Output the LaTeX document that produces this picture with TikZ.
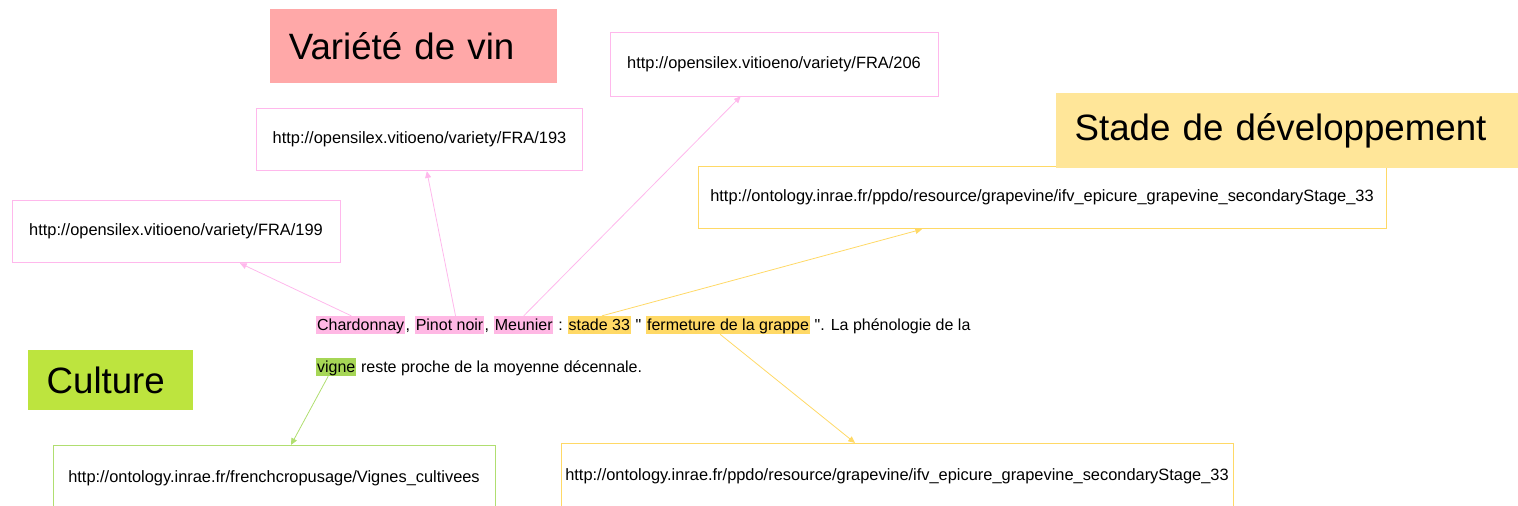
\documentclass[tikz,border=0pt]{standalone}
\usepackage{fontspec}
\setmainfont{Liberation Sans}
\usetikzlibrary{positioning, arrows.meta}

\definecolor{varfill}{HTML}{FFA8A8}
\definecolor{stadefill}{HTML}{FFE699}
\definecolor{cultfill}{HTML}{BDE43E}
\definecolor{pinkline}{HTML}{FFB8EC}
\definecolor{yelline}{HTML}{FFD966}
\definecolor{greenline}{HTML}{B0DE70}
\definecolor{pinkhl}{HTML}{FFB8E4}
\definecolor{orangehl}{HTML}{FFD966}
\definecolor{greenhl}{HTML}{A6D656}

\begin{document}
\begin{tikzpicture}[
  x=0.75pt, y=-0.75pt,
  uri/.style={rectangle, draw, line width=0.6pt, inner sep=0pt, font=\fontsize{12.3}{14}\selectfont},
  title/.style={rectangle, inner xsep=14pt, inner ysep=0pt, align=left, font=\fontsize{27.5}{32}\selectfont},
  word/.style={anchor=base west, inner xsep=0pt, inner ysep=0pt, text height=10.8pt, text depth=2.6pt, font=\fontsize{12}{14}\selectfont},
  hl/.style={word, inner xsep=0.6pt},
  sp/.style={xshift=3.3pt},
  link/.style={-{Triangle[length=5pt, width=4.5pt]}, line width=0.6pt}
]
\clip (0,0) rectangle (1518,506);

% Boxes for the resources
\node[uri, draw=pinkline, minimum width=246pt, minimum height=48pt] (v206) at (774,64) {http://opensilex.vitioeno/variety/FRA/206};
\node[uri, draw=pinkline, minimum width=245pt, minimum height=47pt] (v193) at (419.5,139.5) {http://opensilex.vitioeno/variety/FRA/193};
\node[uri, draw=pinkline, minimum width=246pt, minimum height=47pt] (v199) at (176,231.5) {http://opensilex.vitioeno/variety/FRA/199};
\node[uri, draw=yelline, minimum width=516pt, minimum height=47pt] (sttop) at (1042,197.5) {http://ontology.inrae.fr/ppdo/resource/grapevine/ifv\_epicure\_grapevine\_secondaryStage\_33};
\node[uri, draw=yelline, minimum width=504pt, minimum height=49pt] (stbot) at (897,476) {http://ontology.inrae.fr/ppdo/resource/grapevine/ifv\_epicure\_grapevine\_secondaryStage\_33};
\node[uri, draw=greenline, minimum width=331.5pt, minimum height=49pt] (vignes) at (274,478) {http://ontology.inrae.fr/frenchcropusage/Vignes\_cultivees};

% Category labels
\node[title, fill=varfill, text width=187pt, minimum height=56pt] (variete) at (413.5,46) {Variété de vin};
\node[title, fill=stadefill, text width=318.5pt, minimum height=56pt] (stade) at (1287,130.5) {Stade de développement};
\node[title, fill=cultfill, text width=95.75pt, minimum height=45pt] (culture) at (110.5,380) {Culture};

% Annotated sentence
\node[hl, fill=pinkhl] (chard) at (316,330.5) {Chardonnay};
\node[word] (t1) at (chard.base east) {,};
\node[hl, fill=pinkhl, sp] (pinot) at (t1.base east) {Pinot noir};
\node[word] (t2) at (pinot.base east) {,};
\node[hl, fill=pinkhl, sp] (meunier) at (t2.base east) {Meunier};
\node[word, sp] (t3) at (meunier.base east) {:};
\node[hl, fill=orangehl, sp] (stade33) at (t3.base east) {stade 33};
\node[word, sp] (t4) at (stade33.base east) {\textquotedbl};
\node[hl, fill=orangehl, sp] (ferm) at (t4.base east) {fermeture de la grappe};
\node[word, sp] (t5) at (ferm.base east) {\textquotedbl. La phénologie de la};
\node[hl, fill=greenhl] (vigne) at (316,372.5) {vigne};
\node[word, sp] (t6) at (vigne.base east) {reste proche de la moyenne décennale.};

% Links
\draw[link, pinkline] ([xshift=-7pt]chard.north) -- ([xshift=48pt]v199.south);
\draw[link, pinkline] ([xshift=4.5pt]pinot.north) -- ([xshift=5.5pt]v193.south);
\draw[link, pinkline] (meunier.north) -- ([xshift=-25pt]v206.south);
\draw[link, yelline] ([xshift=2pt]stade33.north) -- ([xshift=-90pt]sttop.south);
\draw[link, yelline] ([xshift=-6pt]ferm.south) -- ([xshift=-31.5pt]stbot.north);
\draw[link, greenline] ([xshift=-6pt]vigne.south) -- ([xshift=12.75pt]vignes.north);
\end{tikzpicture}
\end{document}
